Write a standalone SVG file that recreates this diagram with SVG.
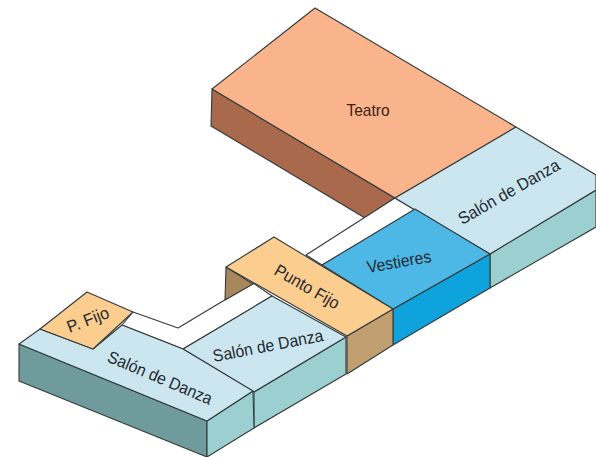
<svg xmlns="http://www.w3.org/2000/svg" width="596" height="457" viewBox="0 0 596 457">
<style>
.e{stroke:#33393a;stroke-width:1.1;stroke-linejoin:round}
text{font-family:"Liberation Sans",Arial,sans-serif;font-size:17px;fill:#1f2a30;text-anchor:middle;dominant-baseline:central}
</style>
<rect width="596" height="457" fill="#fff"/>
<g id="teatro">
<polygon class="e" fill="#a8694c" points="212,89 395,198 365,218 211,126"/>
<polygon class="e" fill="#f9b48c" points="315,8 516,127 395,198 212,89"/>
<text x="368" y="110" textLength="43" lengthAdjust="spacingAndGlyphs" style="fill:#3a2318">Teatro</text>
</g>
<g id="corridor">
<polygon class="e" fill="#fff" points="395,198 415,210 322,265 306,255"/>
<polygon class="e" fill="#fff" points="253,283 272,296 183,349 122,325 133,312 178,328"/>
</g>
<g id="salon-derecha">
<polygon class="e" fill="#9cd0d0" points="490,254 596,190 596,227 490,288"/>
<polygon class="e" fill="#cbe6ef" points="516,127 596,175 596,190 490,254 415,210 395,198"/>
<text transform="translate(509,192) rotate(-29.6)" textLength="114" lengthAdjust="spacingAndGlyphs">Salón de Danza</text>
</g>
<g id="vestieres">
<polygon class="e" fill="#0ea3dd" points="393,309 490,254 490,288 393,345"/>
<polygon class="e" fill="#4db8e6" points="415,209 490,254 393,309 322,265"/>
<text transform="translate(399,262) rotate(-10)" textLength="65" lengthAdjust="spacingAndGlyphs">Vestieres</text>
</g>
<g id="salon-medio">
<polygon class="e" fill="#9cd0d0" points="254,392 346,337 346,374 254,428"/>
<polygon class="e" fill="#cbe6ef" points="272,296 346,337 254,392 183,349"/>
<text transform="translate(268,346) rotate(-11)" textLength="112" lengthAdjust="spacingAndGlyphs">Salón de Danza</text>
</g>
<g id="punto-fijo">
<polygon class="e" fill="#a8875c" points="226,267 253,284 225,300"/>
<polygon class="e" fill="#c19f70" points="347,336 393,309 393,345 347,374"/>
<polygon class="e" fill="#fbcd8f" points="274,237 393,309 347,336 226,267"/>
<text transform="translate(307,287) rotate(30)" textLength="72" lengthAdjust="spacingAndGlyphs">Punto Fijo</text>
</g>
<g id="salon-izquierda">
<polygon class="e" fill="#6f9b9c" points="19,344 207,421 207,457 19,381"/>
<polygon class="e" fill="#9cd0d0" points="207,421 253,391 254,428 207,457"/>
<polygon class="e" fill="#cbe6ef" points="40,329 93,349 122,325 183,349 253,391 207,421 19,344"/>
<text transform="translate(160,378) rotate(23)" textLength="112" lengthAdjust="spacingAndGlyphs">Salón de Danza</text>
</g>
<g id="p-fijo">
<polygon class="e" fill="#fbcd8f" points="87,292 133,312 93,349 40,329"/>
<text transform="translate(88,320) rotate(-21)" textLength="44" lengthAdjust="spacingAndGlyphs">P. Fijo</text>
</g>
</svg>
